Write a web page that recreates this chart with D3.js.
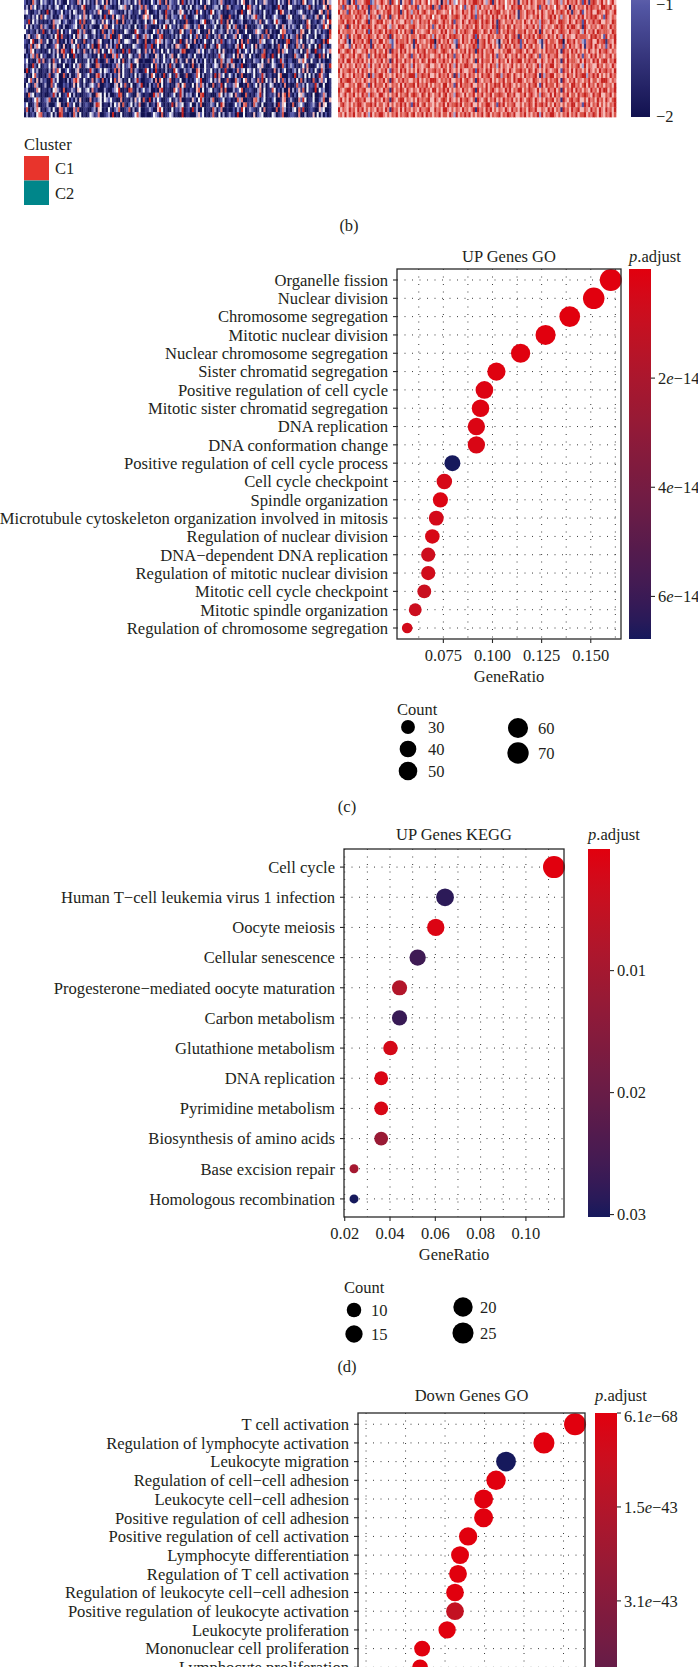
<!DOCTYPE html>
<html><head><meta charset="utf-8">
<script src="https://cdn.jsdelivr.net/npm/d3@7"></script>
<style>
html,body{margin:0;padding:0;background:#fff;}
svg{display:block;}
text{font-family:"Liberation Serif","Times New Roman",serif;fill:#231f20;}
</style></head><body>
<svg id="fig" width="698" height="1667"></svg>
<script>
// ---------------- DATA ----------------
// Heatmap (b): each digit 0..8 is a z-score level (digit-4)/2, i.e. -2..2
const heatLeftRows = [
"2010731042 3102041310 0412106304 1302051240 6031204013 2301416020 1042037106 0321140820 3130204103 4012036201 0210314600 3104021531 1020413106 0231207402 2403016053",
"1306240130 2031034102 4013120158 0102143017 3210103436 1040203716 2013410221 7312014103 0401321060 1023304017 3012210408 6132040021 2001830104 4110020138 0302114607",
"3410021301 0803102140 2130430116 0021316401 1743210103 0320114107 4001203108 2130036410 3020714102 0840231010 1213008104 5031020410 2014085113 0102341020 3100460271",
"0120314071 4213010352 1030132416 3042010308 2016043171 0301020164 6240103307 1032204182 0013402101 2401137000 7102034013 1358210401 0243110036 4011025301 2036014180",
"2180413010 1020633402 3101240817 0114302151 4203170060 2130031014 0137402103 3014020107 1002103480 0230418106 0410123001 2013160142 1048320013 3101002074 0120136148",
"1403021061 3200714103 0012340170 2031000417 6014120302 1300402016 2100103048 0412030175 3103270041 1024003017 4037102060 0101324001 2104106303 1320041185 0103218460",
"4102103018 0130217040 2141008316 1003402071 0327010104 3100842103 1004271301 0230107402 2710340010 6041023105 1302600140 0026431070 3010047612 2003175004 0141302108",
"0350126410 2013048071 1020406303 4101302016 2380017410 0014280137 3140026801 1020304102 0402713018 2003160140 1136042001 4001307216 0020418130 3217060041 1040023107",
"2104800371 1400327010 3026041107 0213016401 1030327014 4310052107 0021746303 2104108015 1306020141 0140318202 3120406017 1000273401 2403010178 0116240031 4302107084",
"1027036401 3001264105 0103417020 2417008301 5130280401 0104321018 2280140103 1030652107 4001203180 0320841101 2103608402 1406032010 0301720460 1207316014 1040803201",
"3016402101 0140315068 2108403106 1030527041 0473201080 2801034016 1306120401 4020103870 0110352401 3102040510 1020830142 0403102701 2010706341 1032040173 0081214136",
"0203617041 2001304106 1400820103 3120104018 1006382401 0430216103 2010530140 1360042010 3204110302 0101283401 2140605310 4020017802 0810403101 1073200481 2300816040",
"2401003816 0130721401 3120040101 1403082001 6200314070 1302450010 0016230141 2041703105 1050302041 0204017303 3810020401 1032204016 0420183102 2001537410 4110302001",
"1300820401 2140530104 0020413701 3410076201 0102163041 2380040101 1040720303 0813002410 2070130041 1024307016 0350218001 2000435100 1431007202 3201014160 0014253018",
"0802413001 1030627400 2410035001 0183102404 3201706041 1070320018 4020810103 0108420031 2300750141 1402030181 0020613404 3140250001 1060302401 0230416050 2041073001",
"3010472001 0270134007 1030026401 2401068303 0130215041 1020403101 3074102080 2401830017 0012740301 1308062401 4203017001 0140128301 2010470002 1080320404 0301852104",
"1047205031 2008314001 0302685104 1016032070 2040715301 0401382001 1230607401 3700214002 0102438001 2403150017 1007320461 0320618041 3050417203 1204070301 0710362401",
"0420163001 3007241002 1201504103 0134216001 2100350417 1040023801 0302170401 2010360471 1040527303 0070128041 2136400107 1024050301 4301020601 0017213041 2183004001",
"2300016401 1020453107 0113205401 3406120003 1002348001 0871030241 2300106801 1007428301 0210570401 3402106070 0031247011 2100360401 1740203006 0302517041 1080423001",
"1073402101 0012830401 2840301001 1230075404 0300128701 4210053101 1008362401 0124018303 2301407801 1000274031 3406210071 0102381401 2130605707 1020453101 0400126301",
"0010247301 2370104001 1402030501 0060213404 3241100601 1030524071 0803142001 2401316001 1052048301 0370012401 2010736001 1067302401 0240015601 3100628401 1400237005",
"2400137001 1300024501 0721400301 2100387401 1030425071 0240316001 3012064101 0180523401 2400317001 1320408501 0014230671 2073104001 1030825401 0701342001 2310605401",
"1702036401 0230410671 3100627001 1002305401 0410237001 2703014001 1320058401 0040213801 2081300401 1073026001 0020318401 3210140601 1007026301 0340718001 2100534001",
"0301204671 2014030871 1020730401 0143126001 2308010401 1002473001 0014320701 2430100801 1000352401 0271040301 3120800401 1050234001 0430127001 2210600301 1504030201"
];
const heatRightRows = [
"7586205826 6578823756 8657186471 5768257685 6847568506 7386347568 5768876853 6817586746 7586157685 8657768536 5786375867 6857286178 7568574685",
"6728576582 5867186735 7586857684 6875768257 5768176286 8657586472 6587368576 7568576846 5876885765 7658276857 6487568506 8576758687 6758876857",
"8576285768 7685176586 5768857681 7586376857 8657758765 6748576586 7586375768 5867885765 7685176587 6857586576 8576875861 7658257685 5876587568",
"5867776586 8657386751 6758176586 7586857686 5768476587 8657787568 6587276857 7586857685 8675176586 5768586578 6857376586 7586857687 8657286576",
"6785876858 7568175687 8576585765 5867376586 7685787568 6758276586 5867875868 7586186576 6857675865 8576387658 7658876586 5867285768 6785576587",
"7658185768 5876875865 6785376587 8657786576 7586275868 5768586576 8675875867 6587186758 7586675686 6857386576 5786875868 8657186576 7568775867",
"8576776586 6758285768 7586876857 5867185765 6785776586 8576385768 7658876587 5867285768 6785776857 7586185765 8657876586 6785385768 5876776587",
"6857285768 8576876586 5768185765 7685776587 8657385768 6587876586 7568285765 8675776587 5786185768 6857876586 7586385765 5867776587 8675285768",
"7568305867 6857816758 8576325867 7685718576 5768806857 6857327586 7586816785 8657305768 5876827586 6785316857 7658805876 8576326785 5867817658",
"6785527586 7586618576 5867725768 8657516857 6758627586 7685518657 5768726785 6857517586 7586626857 8576515867 6857727586 7568516785 8657626857",
"8657875865 5768576857 7586186758 6857575867 8576786578 7658575768 5867186857 6785575768 8657786586 5876575867 7685186758 6857575865 7586786576",
"5786576857 8657275868 6785576857 7568276586 8675576857 5867276586 6857576857 7586276586 5768576857 8657276586 6785576857 7586276586 8576576857",
"7685885768 6857586576 8576185867 5867586758 7586885768 6758586576 8657185867 7586586758 5867885768 6785586576 8576185867 7658586758 6857885768",
"6857576586 7586385768 5768576857 8657385765 6785576586 7586385768 8675576857 5867385765 6857576586 7568385768 8576576857 6785385765 5867576586",
"8576786758 5867575865 7685286758 6857575865 8576786758 7586575865 5768286758 6857575865 8657786758 7586575865 6785286758 5867575865 7586786758",
"7586575867 6857183768 8576575867 5768883768 7685575867 6857183768 5867575867 8657883768 7586575867 6785183768 8576575867 5867883768 6857575867",
"5867886576 7586576857 6857186576 8675576857 5768886576 7685576857 8657186576 6857576857 7586886576 5876576857 6785186576 8576576857 7568886576",
"6785576758 8657285867 7586576758 5867785867 6857576758 8576285867 7685576758 5768785867 8657576758 6785285867 7586576758 8675785867 5867576758",
"8657885768 6785576586 5867185768 7586576586 8675885768 6857576586 7568185768 5786576586 8576885768 7658576586 6857185768 5867576586 7586885768",
"7568576857 5867387658 8657576857 6785787658 7586576857 8576387658 5768576857 6857787658 7685576857 8657387658 5867576857 7586787658 6785576857",
"6857586578 7685575867 5867186578 8576575867 6785586578 7586575867 8657186578 5768575867 6857586578 7586575867 8576186578 6785575867 5867586578",
"5786575768 8657786857 7568575768 6857286857 8576575768 5867786857 7685575768 8657286857 6785575768 7586786857 5867575768 8576286857 6857575768",
"8576586758 6857576586 7586186758 5867576586 6785586758 8657576586 7568186758 6857576586 5867586758 7685576586 8576186758 6785576586 7586586758",
"6758576857 7586385768 8657576857 6785785768 5867576857 7586385768 6857576857 8576785768 7685576857 5768385768 8657576857 6857785768 7586576857"
];
const heatPalette = ["#121250","#5558a6","#f5f5f8","#e97f7c","#c5221f"];
const heatLegendTicks = [-2, -1];
const heatLegendLabels = ["\u22122", "\u22121"];
const clusterNames = ["C1", "C2"];
const clusterColors = ["#E8342C", "#00868A"];

// (c) UP Genes GO
const goUpTerms = ["Organelle fission","Nuclear division","Chromosome segregation","Mitotic nuclear division","Nuclear chromosome segregation","Sister chromatid segregation","Positive regulation of cell cycle","Mitotic sister chromatid segregation","DNA replication","DNA conformation change","Positive regulation of cell cycle process","Cell cycle checkpoint","Spindle organization","Microtubule cytoskeleton organization involved in mitosis","Regulation of nuclear division","DNA\u2212dependent DNA replication","Regulation of mitotic nuclear division","Mitotic cell cycle checkpoint","Mitotic spindle organization","Regulation of chromosome segregation"];
const goUpRatio = [0.1602,0.1515,0.1393,0.1270,0.1143,0.1020,0.0959,0.0939,0.0918,0.0918,0.0796,0.0755,0.0735,0.0714,0.0694,0.0673,0.0673,0.0653,0.0607,0.0566];
const goUpCount = [75,71,65,60,54,48,45,44,43,43,37,35,34,33,32,31,31,30,28,26];
const goUpPadj = [1.0e-17,2.1e-17,4.5e-17,9.3e-17,3.2e-16,8.8e-16,1.6e-15,1.1e-15,2.4e-15,3.0e-15,6.78e-14,4.1e-15,1.9e-15,5.2e-15,3.6e-15,7.4e-15,6.1e-15,9.0e-15,8.3e-15,5.5e-15];
const goUpXTicks = [0.075,0.100,0.125,0.150];
const goUpXMinor = [0.0625,0.0875,0.1125,0.1375,0.1625];
const goUpPadjTicks = [2e-14,4e-14,6e-14];
const goUpPadjLabels = ["2e\u221214","4e\u221214","6e\u221214"];
const goUpCountLegend = [30,40,50,60,70];

// (d) UP Genes KEGG
const keggTerms = ["Cell cycle","Human T\u2212cell leukemia virus 1 infection","Oocyte meiosis","Cellular senescence","Progesterone\u2212mediated oocyte maturation","Carbon metabolism","Glutathione metabolism","DNA replication","Pyrimidine metabolism","Biosynthesis of amino acids","Base excision repair","Homologous recombination"];
const keggRatio = [0.1124,0.0643,0.0602,0.0522,0.0442,0.0442,0.0402,0.0361,0.0361,0.0361,0.0241,0.0241];
const keggCount = [28,16,15,13,11,11,10,9,9,9,6,6];
const keggPadj = [0.00003,0.0284,0.0009,0.0262,0.0078,0.0270,0.0021,0.0012,0.0016,0.0120,0.0100,0.0302];
const keggXTicks = [0.02,0.04,0.06,0.08,0.10];
const keggXMinor = [0.03,0.05,0.07,0.09,0.11];
const keggPadjTicks = [0.01,0.02,0.03];
const keggPadjLabels = ["0.01","0.02","0.03"];
const keggCountLegend = [10,15,20,25];

// (e) Down Genes GO (visible part)
const goDownTerms = ["T cell activation","Regulation of lymphocyte activation","Leukocyte migration","Regulation of cell\u2212cell adhesion","Leukocyte cell\u2212cell adhesion","Positive regulation of cell adhesion","Positive regulation of cell activation","Lymphocyte differentiation","Regulation of T cell activation","Regulation of leukocyte cell\u2212cell adhesion","Positive regulation of leukocyte activation","Leukocyte proliferation","Mononuclear cell proliferation","Lymphocyte proliferation"];
const goDownRatio = [0.2073,0.1876,0.1636,0.1573,0.1494,0.1494,0.1396,0.1345,0.1332,0.1313,0.1313,0.1263,0.1105,0.1092];
const goDownCount = [120,109,95,91,87,87,81,78,77,76,76,73,64,63];
const goDownPadj = [6.1e-68,3.2e-60,6.14e-43,1.1e-55,4.5e-58,2.3e-50,8.6e-52,1.4e-48,2.7e-50,6.0e-52,1.0e-43,3.3e-47,1.8e-46,2.5e-46];
const goDownXLimits = [0.0699,0.2136];
const goDownCountLimits = [48,120];
const goDownXTicks = [0.10,0.15,0.20];
const goDownXMinor = [0.075,0.125,0.175];
const goDownPadjTicks = [6.1e-68,1.53e-43,3.06e-43];
const goDownPadjLabels = ["6.1e\u221268","1.5e\u221243","3.1e\u221243"];

// ---------------- DRAW ----------------
const svg = d3.select("#fig");
const LOW = "#E1000E", HIGH = "#16195C";
const FS = 16.5;

// ---- (b) heatmap ----
const heatColor = d3.scaleLinear().domain([-2,-1,0,1,2]).range(heatPalette).interpolate(d3.interpolateLab);
const hg = svg.append("g");
function drawBlock(rows, x0, x1, y0, y1){
  const yS = d3.scaleBand().domain(d3.range(rows.length)).range([y0, y1]);
  rows.forEach((r, i) => {
    const cells = r.replace(/\s/g, "").split("").map(ch => (+ch - 4) / 2);
    const xS = d3.scaleBand().domain(d3.range(cells.length)).range([x0, x1]);
    hg.append("g").selectAll("rect").data(cells).join("rect")
      .attr("x", (d, j) => xS(j)).attr("y", yS(i))
      .attr("width", xS.bandwidth() + 0.35).attr("height", yS.bandwidth() + 0.35)
      .attr("fill", d => heatColor(d));
  });
}
drawBlock(heatLeftRows, 24, 331, 0, 117);
drawBlock(heatRightRows, 338, 616, 0, 117);

// heat legend bar
const lgY = d3.scaleLinear().domain([-2, -1]).range([116, 4]);
const defs = svg.append("defs");
const hgrad = defs.append("linearGradient").attr("id", "hgrad").attr("x1", 0).attr("y1", 0).attr("x2", 0).attr("y2", 1);
d3.range(0, 1.0001, 0.05).forEach(t => {
  const v = lgY.invert(t * 117);
  hgrad.append("stop").attr("offset", t).attr("stop-color", heatColor(v));
});
svg.append("rect").attr("x", 631).attr("y", 0).attr("width", 19).attr("height", 117).attr("fill", "url(#hgrad)");
svg.selectAll(null).data(heatLegendTicks).join("text")
  .attr("x", 656).attr("y", d => lgY(d)).attr("dy", "0.35em")
  .attr("font-size", FS).text((d, i) => heatLegendLabels[i]);

// cluster legend
svg.append("text").attr("x", 24).attr("y", 150).attr("font-size", FS).text("Cluster");
const clY = d3.scaleBand().domain(clusterNames).range([156, 205]);
svg.selectAll(null).data(clusterNames).join("rect")
  .attr("x", 24).attr("y", d => clY(d)).attr("width", 25).attr("height", clY.bandwidth())
  .attr("fill", (d, i) => clusterColors[i]);
svg.selectAll(null).data(clusterNames).join("text")
  .attr("x", 55).attr("y", d => clY(d) + clY.bandwidth() / 2).attr("dy", "0.35em")
  .attr("font-size", FS).text(d => d);

// captions
svg.append("text").attr("x", 349).attr("y", 231).attr("text-anchor", "middle").attr("font-size", FS).text("(b)");
svg.append("text").attr("x", 347).attr("y", 812).attr("text-anchor", "middle").attr("font-size", FS).text("(c)");
svg.append("text").attr("x", 347).attr("y", 1372).attr("text-anchor", "middle").attr("font-size", FS).text("(d)");

function sciText(sel, s){
  const k = s.indexOf("e");
  if (k < 0) { sel.text(s); return; }
  sel.append("tspan").text(s.slice(0, k));
  sel.append("tspan").attr("font-style", "italic").text("e");
  sel.append("tspan").text(s.slice(k + 1));
}

let gid = 0;
function dotPanel(cfg){
  const g = svg.append("g");
  const [bx0, by0, bx1, by1] = cfg.box;
  const n = cfg.terms.length;
  const step = cfg.rowStep || (by1 - by0) / (n - 1 + 1.2);
  const yS = d3.scalePoint().domain(cfg.terms).range([by0 + 0.6 * step, by0 + 0.6 * step + (n - 1) * step]);
  let dom = cfg.xLimits;
  if (!dom) { const e = d3.extent(cfg.ratio); const p = (e[1] - e[0]) * 0.05; dom = [e[0] - p, e[1] + p]; }
  const xS = d3.scaleLinear().domain(dom).range([bx0, bx1]);
  const tS = d3.scaleLinear().domain(cfg.countLimits || d3.extent(cfg.count)).range([0, 1]).clamp(true);
  const rOf = c => cfg.rRange[0] + (cfg.rRange[1] - cfg.rRange[0]) * Math.sqrt(tS(c));
  const pDom = d3.extent(cfg.padj);
  const col = d3.scaleLinear().domain(pDom).range([LOW, HIGH]).interpolate(d3.interpolateLab);

  // grid
  const gridStyle = s => s.attr("stroke", "#3a3a3a").attr("stroke-width", 1).attr("stroke-dasharray", "1,6.5");
  g.append("g").selectAll("line").data(cfg.xTicks.concat(cfg.xMinor)).join("line")
    .attr("x1", d => xS(d)).attr("x2", d => xS(d)).attr("y1", by0).attr("y2", by1).call(gridStyle);
  g.append("g").selectAll("line").data(cfg.terms).join("line")
    .attr("x1", bx0).attr("x2", bx1).attr("y1", d => yS(d)).attr("y2", d => yS(d)).call(gridStyle);

  // dots
  g.append("g").selectAll("circle").data(cfg.terms).join("circle")
    .attr("cx", (d, i) => xS(cfg.ratio[i])).attr("cy", d => yS(d))
    .attr("r", (d, i) => rOf(cfg.count[i])).attr("fill", (d, i) => col(cfg.padj[i]));

  // border
  g.append("rect").attr("x", bx0).attr("y", by0).attr("width", bx1 - bx0).attr("height", by1 - by0)
    .attr("fill", "none").attr("stroke", "#2a2a2a").attr("stroke-width", 1.3);

  // y axis
  g.append("g").selectAll("line").data(cfg.terms).join("line")
    .attr("x1", bx0 - 4).attr("x2", bx0).attr("y1", d => yS(d)).attr("y2", d => yS(d))
    .attr("stroke", "#2a2a2a").attr("stroke-width", 1.1);
  g.append("g").selectAll("text").data(cfg.terms).join("text")
    .attr("x", bx0 - 9).attr("y", d => yS(d)).attr("dy", "0.35em").attr("text-anchor", "end")
    .attr("font-size", cfg.labelSize).text(d => d);

  // x axis
  if (cfg.showX) {
    g.append("g").selectAll("line").data(cfg.xTicks).join("line")
      .attr("x1", d => xS(d)).attr("x2", d => xS(d)).attr("y1", by1).attr("y2", by1 + 4)
      .attr("stroke", "#2a2a2a").attr("stroke-width", 1.1);
    g.append("g").selectAll("text").data(cfg.xTicks).join("text")
      .attr("x", d => xS(d)).attr("y", by1 + 22).attr("text-anchor", "middle")
      .attr("font-size", FS).text(d => d3.format(cfg.tickFmt)(d));
    g.append("text").attr("x", (bx0 + bx1) / 2).attr("y", by1 + 43).attr("text-anchor", "middle")
      .attr("font-size", FS).text("GeneRatio");
  }

  // title
  g.append("text").attr("x", (bx0 + bx1) / 2).attr("y", by0 - cfg.titleDy).attr("text-anchor", "middle")
    .attr("font-size", FS).text(cfg.title);

  // colorbar
  const id = "cg" + (gid++);
  const grad = defs.append("linearGradient").attr("id", id).attr("x1", 0).attr("y1", 0).attr("x2", 0).attr("y2", 1);
  d3.range(0, 1.0001, 0.05).forEach(t => grad.append("stop").attr("offset", t)
    .attr("stop-color", col(pDom[0] + t * (pDom[1] - pDom[0]))));
  const cbY = d3.scaleLinear().domain(pDom).range([by0, by1]);
  g.append("rect").attr("x", cfg.cbX).attr("y", by0).attr("width", cfg.cbW).attr("height", by1 - by0)
    .attr("fill", "url(#" + id + ")");
  g.append("g").selectAll("line").data(cfg.padjTicks).join("line")
    .attr("x1", cfg.cbX + cfg.cbW).attr("x2", cfg.cbX + cfg.cbW + 4)
    .attr("y1", d => cbY(d)).attr("y2", d => cbY(d)).attr("stroke", "#2a2a2a").attr("stroke-width", 1.1);
  g.append("g").selectAll("text").data(cfg.padjTicks).join("text")
    .attr("x", cfg.cbX + cfg.cbW + 7).attr("y", (d, i) => cbY(d) + (cfg.padjLabelDy ? cfg.padjLabelDy[i] : 0)).attr("dy", "0.35em")
    .attr("font-size", FS).each(function(d, i){ sciText(d3.select(this), cfg.padjLabels[i]); });
  const pt = g.append("text").attr("x", cfg.cbX).attr("y", by0 - cfg.titleDy).attr("font-size", FS);
  pt.append("tspan").attr("font-style", "italic").text("p");
  pt.append("tspan").text(".adjust");

  // size legend
  if (cfg.legend) {
    const L = cfg.legend;
    g.append("text").attr("x", bx0).attr("y", L.titleY).attr("font-size", FS).text("Count");
    const lg = g.append("g").selectAll("g").data(cfg.legendValues).join("g")
      .attr("transform", (d, i) => `translate(${L.pos[i][0]},${L.pos[i][1]})`);
    lg.append("circle").attr("r", d => rOf(d)).attr("fill", "#000");
    lg.append("text").attr("x", L.labelDx).attr("dy", "0.35em").attr("font-size", FS).text(d => d);
  }
}

dotPanel({
  title: "UP Genes GO", terms: goUpTerms, ratio: goUpRatio, count: goUpCount, padj: goUpPadj,
  box: [397, 269, 621, 639], xTicks: goUpXTicks, xMinor: goUpXMinor, tickFmt: ".3f", showX: true,
  rRange: [5.3, 11], cbX: 629, cbW: 22, padjTicks: goUpPadjTicks, padjLabels: goUpPadjLabels,
  labelSize: 16.6, legendValues: goUpCountLegend, titleDy: 7,
  legend: { titleY: 715, labelDx: 20, pos: [[408,727],[408,749],[408,771],[518,728],[518,753]] }
});
dotPanel({
  title: "UP Genes KEGG", terms: keggTerms, ratio: keggRatio, count: keggCount, padj: keggPadj,
  box: [344, 849, 564, 1217], xTicks: keggXTicks, xMinor: keggXMinor, tickFmt: ".2f", showX: true,
  rRange: [4.5, 11], cbX: 588, cbW: 22, padjTicks: keggPadjTicks, padjLabels: keggPadjLabels,
  labelSize: 16.6, legendValues: keggCountLegend, titleDy: 9,
  legend: { titleY: 1293, labelDx: 17, pos: [[354,1310],[354,1334],[463,1307],[463,1333]] }
});
dotPanel({
  title: "Down Genes GO", terms: goDownTerms, ratio: goDownRatio, count: goDownCount, padj: goDownPadj,
  box: [358, 1413, 585, 1790], rowStep: 18.7, xLimits: goDownXLimits, countLimits: goDownCountLimits,
  xTicks: goDownXTicks, xMinor: goDownXMinor, tickFmt: ".2f", showX: false,
  rRange: [5.3, 11], cbX: 595, cbW: 22, padjTicks: goDownPadjTicks, padjLabels: goDownPadjLabels,
  padjLabelDy: [3, 0, 0], labelSize: 16.6, titleDy: 12
});
</script>
</body></html>
